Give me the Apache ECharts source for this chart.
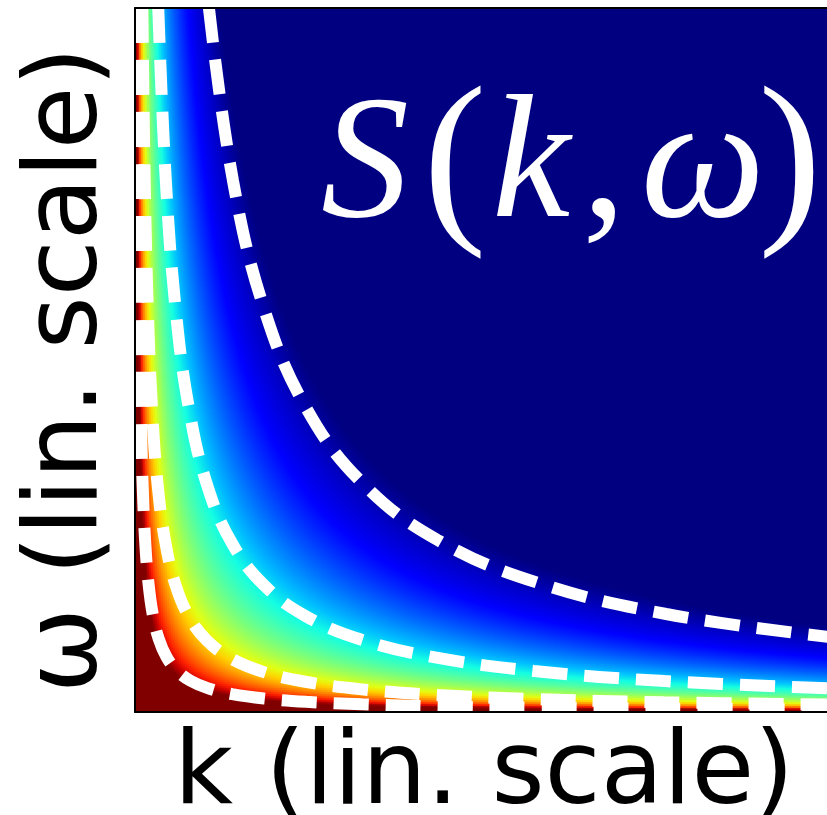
<!DOCTYPE html>
<html><head><meta charset="utf-8">
<script src="https://cdn.jsdelivr.net/npm/echarts@6/dist/echarts.min.js"></script>
<style>html,body{margin:0;padding:0;background:#fff}#c{width:827px;height:815px}</style>
</head><body><div id="c"></div>
<script>
// Colour scale of S(k, ω): log10(k·ω) at the dark-red end and at the navy end
const colorLogMin = -2.5;
const colorLogMax = -0.92;
// jet colour map, low (dark red) -> high (navy)
const jetColors = ['#800000','#c80000','#ff2100','#ff5c00','#ff9700','#ffd200','#e2ff14','#afff48',
  '#7bff7b','#48ffaf','#15ffe2','#00bfff','#0080ff','#0040ff','#0000ff','#0000c8','#000080'];

// Dashed contour curves (k, ω), both axes linear 0..1
const curveA_k = [0.0035,0.00465,0.00617,0.00818,0.01085,0.0144,0.0191,0.0253,0.0336,0.0446,0.0592,0.0785,0.1041,0.1382,0.1833,0.2432,0.3227,0.4282,0.5681,0.7537,1];
const curveA_w = [1,0.7537,0.5681,0.4282,0.3227,0.2432,0.1833,0.1382,0.1041,0.0785,0.0592,0.0446,0.0336,0.0253,0.0191,0.0144,0.01085,0.00818,0.00617,0.00465,0.0035];
const curveB_k = [0.0104,0.01383,0.0184,0.0245,0.0325,0.0433,0.0576,0.0766,0.1019,0.1356,0.1804,0.24,0.3193,0.4247,0.565,0.7517,1];
const curveB_w = [1,0.7517,0.565,0.4247,0.3193,0.24,0.1804,0.1356,0.1019,0.0766,0.0576,0.0433,0.0325,0.0245,0.0184,0.01383,0.0104];
const curveC_k = [0.033,0.0439,0.0583,0.0775,0.1029,0.1368,0.1817,0.2414,0.3208,0.4263,0.5664,0.7526,1];
const curveC_w = [1,0.7526,0.5664,0.4263,0.3208,0.2414,0.1817,0.1368,0.1029,0.0775,0.0583,0.0439,0.033];
const curveD_k = [0.105,0.1392,0.1845,0.2445,0.3241,0.4295,0.5693,0.7545,1];
const curveD_w = [1,0.7545,0.5693,0.4295,0.3241,0.2445,0.1845,0.1392,0.105];

const xLabel = 'k (lin. scale)';
const yLabel = 'ω (lin. scale)';

// sampling grid of the field
const N = 352;
const kCats = [], wCats = [];
for (let i = 0; i < N; i++) { kCats.push(String(i)); wCats.push(String(i)); }
const heat = [];
for (let i = 0; i < N; i++) {
  const k = (i + 0.5) / N;
  for (let j = 0; j < N; j++) {
    const w = (j + 0.5) / N;
    let v = Math.log10(k * w);
    v = Math.max(colorLogMin, Math.min(colorLogMax, v));
    heat.push([i, j, v]);
  }
}
function zip(a, b) { return a.map((v, i) => [v, b[i]]); }
const curves = [zip(curveA_k, curveA_w), zip(curveB_k, curveB_w), zip(curveC_k, curveC_w), zip(curveD_k, curveD_w)];

const chart = echarts.init(document.getElementById('c'), null, {renderer: 'canvas'});
const gridPos = {left: 135, top: 8, width: 704, height: 704, outerBoundsMode: 'none', containLabel: false};
const frameAxis = {show: true, onZero: false, lineStyle: {color: '#000', width: 2}};
const lineSeries = curves.map(d => ({
  type: 'line', xAxisIndex: 1, yAxisIndex: 1, data: d, symbol: 'none', showSymbol: false,
  smooth: 0.4, silent: true, z: 5, animation: false,
  lineStyle: {color: '#ffffff', width: 12, type: [35, 17], cap: 'butt'}
}));
const sFont = '"Liberation Serif", "DejaVu Serif", serif';
const txt = (t, x, y, size, italic) => ({
  type: 'text', x: x, y: y, z: 100, silent: true,
  style: {text: t, fill: '#ffffff', fontSize: size, fontFamily: sFont, fontStyle: italic ? 'italic' : 'normal',
          textAlign: 'center', textVerticalAlign: 'middle'}
});
chart.setOption({
  animation: false,
  backgroundColor: '#ffffff',
  grid: [Object.assign({}, gridPos), Object.assign({}, gridPos)],
  xAxis: [
    {type: 'category', gridIndex: 0, data: kCats, show: false},
    {type: 'value', gridIndex: 1, min: 0, max: 1, position: 'bottom', z: 10, axisLine: frameAxis,
     axisTick: {show: false}, axisLabel: {show: false}, splitLine: {show: false}},
    {type: 'value', gridIndex: 1, min: 0, max: 1, position: 'top', z: 10, axisLine: frameAxis,
     axisTick: {show: false}, axisLabel: {show: false}, splitLine: {show: false}}
  ],
  yAxis: [
    {type: 'category', gridIndex: 0, data: wCats, show: false},
    {type: 'value', gridIndex: 1, min: 0, max: 1, position: 'left', z: 10, axisLine: frameAxis,
     axisTick: {show: false}, axisLabel: {show: false}, splitLine: {show: false}}
  ],
  visualMap: {type: 'continuous', show: false, min: colorLogMin, max: colorLogMax, dimension: 2,
              seriesIndex: 0, inRange: {color: jetColors}},
  series: [
    {type: 'heatmap', xAxisIndex: 0, yAxisIndex: 0, data: heat, progressive: 0, silent: true,
     emphasis: {disabled: true}, itemStyle: {borderWidth: 0}}
  ].concat(lineSeries),
  graphic: [
    txt('S', 365, 170, 176, true),
    txt('(', 455, 168, 190, false),
    txt('k', 531, 170, 176, true),
    txt(',', 604, 170, 176, false),
    txt('ω', 703, 170, 176, true),
    txt(')', 790, 168, 190, false),
    {type: 'text', x: 484, y: 776, z: 100, silent: true,
     style: {text: xLabel, fill: '#000', fontSize: 102, fontFamily: '"DejaVu Sans"', textAlign: 'center', textVerticalAlign: 'middle'}},
    {type: 'text', x: 69, y: 370, rotation: Math.PI / 2, z: 100, silent: true,
     style: {text: yLabel, fill: '#000', fontSize: 102, fontFamily: '"DejaVu Sans"', textAlign: 'center', textVerticalAlign: 'middle'}}
  ]
});
</script></body></html>
